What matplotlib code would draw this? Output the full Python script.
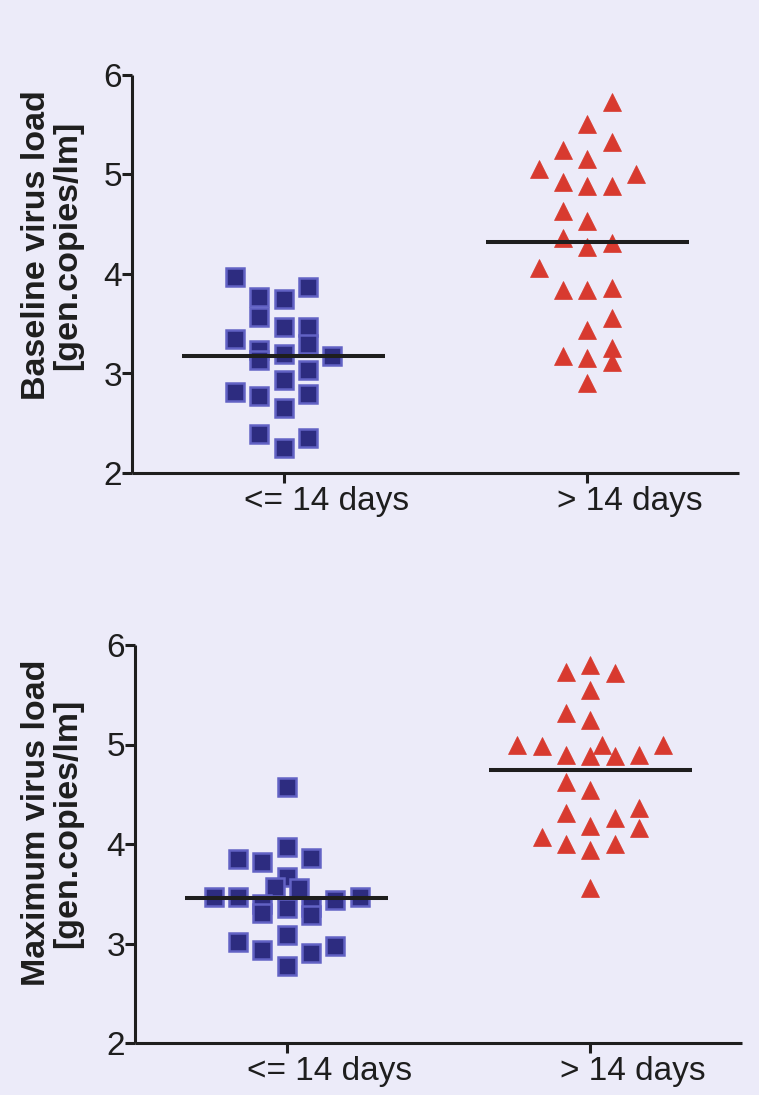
import numpy as np
import matplotlib
matplotlib.use("Agg")
import matplotlib.pyplot as plt
from matplotlib.transforms import ScaledTranslation

plt.rcParams['font.family'] = ['Liberation Sans', 'DejaVu Sans']

# groups / labels
groups = ["<= 14 days", "> 14 days"]
ylabels = ["Baseline virus load\n[gen.copies/lm]", "Maximum virus load\n[gen.copies/lm]"]

# baseline load, <= 14 days  (value, swarm column)
base_short = [3.97, 3.77, 3.75, 3.87, 3.57, 3.47, 3.47, 3.35, 3.30, 3.24, 3.14,
              3.20, 3.18, 3.04, 2.93, 2.81, 2.77, 2.79, 2.65, 2.39, 2.35, 2.25]
base_short_col = [-2, -1, 0, 1, -1, 0, 1, -2, 1, -1, -1,
                  0, 2, 1, 0, -2, -1, 1, 0, -1, 1, 0]
# baseline load, > 14 days
base_long = [5.73, 5.51, 5.33, 5.25, 5.16, 5.06, 5.01, 4.92, 4.88, 4.88, 4.63, 4.53, 4.36,
             4.27, 4.31, 4.06, 3.84, 3.84, 3.86, 3.56, 3.44, 3.18, 3.16, 3.26, 3.12, 2.90]
base_long_col = [1, 0, 1, -1, 0, -2, 2, -1, 0, 1, -1, 0, -1,
                 0, 1, -2, -1, 0, 1, 1, 0, -1, 0, 1, 1, 0]
# maximum load, <= 14 days
max_short = [4.57, 3.97, 3.85, 3.82, 3.86, 3.67, 3.57, 3.56, 3.47, 3.47, 3.44, 3.47,
             3.40, 3.31, 3.36, 3.37, 3.29, 3.02, 2.93, 3.09, 2.90, 2.97, 2.77]
max_short_col = [0, 0, -2, -1, 1, 0, -0.5, 0.5, -3, -2, 2, 3,
                 -1, -1, 0, 1, 1, -2, -1, 0, 1, 2, 0]
# maximum load, > 14 days
max_long = [5.80, 5.73, 5.72, 5.55, 5.32, 5.25, 5.00, 4.98, 5.00, 5.00, 4.89, 4.88, 4.88,
            4.89, 4.62, 4.54, 4.31, 4.36, 4.26, 4.18, 4.16, 4.07, 4.00, 4.00, 3.94, 3.56]
max_long_col = [0, -1, 1, 0, -1, 0, -3, -2, 0.5, 3, -1, 0, 1,
                2, -1, 0, -1, 2, 1, 0, 2, -2, -1, 1, 0, 0]

medians = [[3.18, 4.32], [3.46, 4.74]]

panels = [[(base_short, base_short_col), (base_long, base_long_col)],
          [(max_short, max_short_col), (max_long, max_long_col)]]

bg = '#ECEBF9'
ink = '#1E1E1E'
sq_fill = '#2D2C80'
sq_edge = '#6262C4'
tri_col = '#D83A2F'
step = 0.08

fig = plt.figure(figsize=(7.59, 10.95), dpi=100, facecolor=bg)
W, H = 759, 1095
boxes = [(132, 473, 607, 398), (135, 1043, 607, 398)]
lab_off = [-29, -21]   # label centre above axes centre, px

for k in range(2):
    l, b, w, h = boxes[k]
    ax = fig.add_axes([l / W, 1 - b / H, w / W, h / H])
    ax.set_facecolor(bg)

    for g in range(2):
        vals, cols = panels[k][g]
        x = g + 1 + step * np.array(cols)
        if g == 0:
            ax.plot(x, vals, 's', ms=13.5, mfc=sq_fill, mec=sq_edge, mew=1.8, zorder=3)
        else:
            ax.plot(x, vals, '^', ms=13, mfc=tri_col, mec=tri_col, mew=0.5, zorder=3)
        ax.plot([g + 1 - 0.335, g + 1 + 0.335], [medians[k][g]] * 2,
                color=ink, lw=2.9, zorder=4, solid_capstyle='butt')

    ax.set_xlim(0.5, 2.5)
    ax.set_ylim(2, 6)
    ax.set_yticks([2, 3, 4, 5, 6])
    ax.set_xticks([1, 2])
    ax.set_xticklabels(groups)
    for s in ['top', 'right']:
        ax.spines[s].set_visible(False)
    for s in ['left', 'bottom']:
        ax.spines[s].set_linewidth(2.2)
        ax.spines[s].set_color(ink)
        ax.spines[s].set_capstyle('butt')
    ax.tick_params(axis='y', direction='out', length=7, width=2.2, color=ink,
                   labelsize=24, labelcolor=ink, pad=0)
    ax.tick_params(axis='x', direction='out', length=7, width=2.2, color=ink,
                   labelsize=24, labelcolor=ink, pad=2.5)
    # category labels sit right of their ticks in the original
    shift = ScaledTranslation(0.43, 0, fig.dpi_scale_trans)
    for t in ax.get_xticklabels():
        t.set_transform(t.get_transform() + shift)

    cy = 0.5 - lab_off[k] / h
    ax.text((52 - l) / w, cy, ylabels[k], transform=ax.transAxes, rotation=90,
            ha='center', va='center', multialignment='center',
            fontsize=24.5, fontweight='bold', color=ink, linespacing=1.0)

fig.savefig('out.png', dpi=100, facecolor=bg)
